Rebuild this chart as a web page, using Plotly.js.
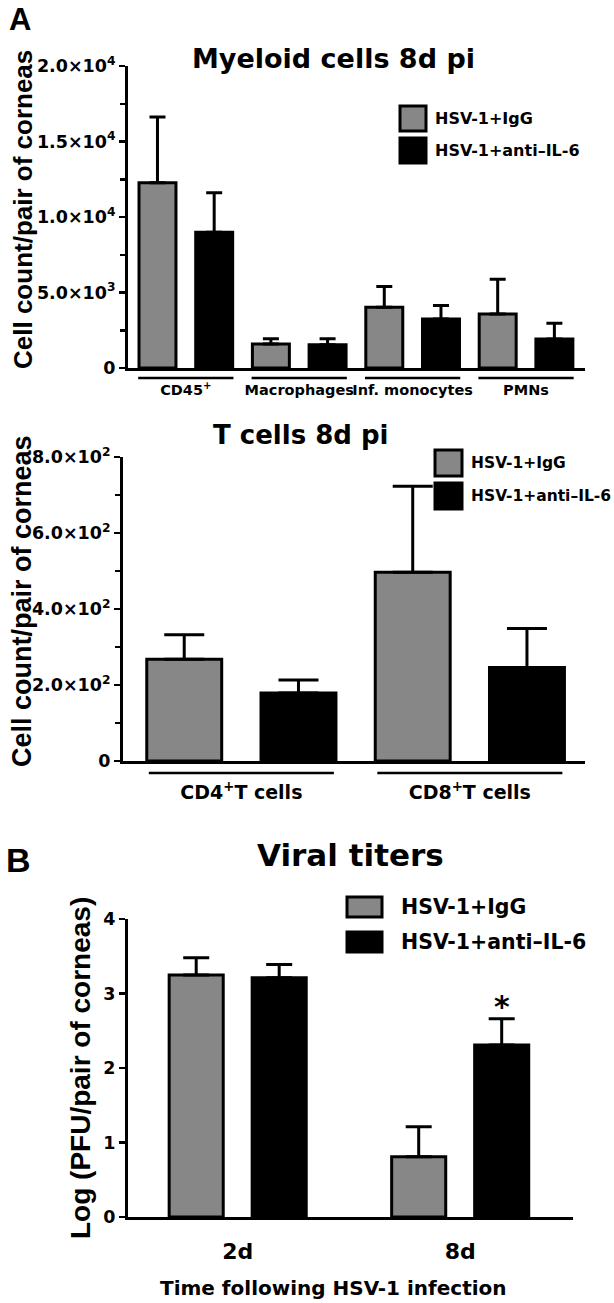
<!DOCTYPE html>
<html>
<head>
<meta charset="utf-8">
<script src="https://cdn.plot.ly/plotly-3.0.1.min.js"></script>
<style>html,body{margin:0;padding:0;background:#fff}</style>
</head>
<body>
<div id="fig" style="width:614px;height:1303px"></div>
<script>
// ── Data ────────────────────────────────────────────────────────────────
const groups = ["HSV-1+IgG", "HSV-1+anti–IL-6"];

const myeloidCats    = ["CD45<sup>+</sup>", "Macrophages", "Inf. monocytes", "PMNs"];
const myeloidIgg     = [12270, 1590, 4030, 3570];
const myeloidIggErr  = [4360, 350, 1360, 2310];
const myeloidAnti    = [8990, 1540, 3240, 1920];
const myeloidAntiErr = [2620, 400, 900, 1050];
const myeloidTicks    = [0, 5000, 10000, 15000, 20000];
const myeloidTickText = ["0", "5.0×10<sup>3</sup>", "1.0×10<sup>4</sup>", "1.5×10<sup>4</sup>", "2.0×10<sup>4</sup>"];

const tcellCats    = ["CD4<sup>+</sup>T cells", "CD8<sup>+</sup>T cells"];
const tcellIgg     = [268, 497];
const tcellIggErr  = [64, 226];
const tcellAnti    = [179, 246];
const tcellAntiErr = [34, 103];
const tcellTicks    = [0, 200, 400, 600, 800];
const tcellTickText = ["0", "2.0×10<sup>2</sup>", "4.0×10<sup>2</sup>", "6.0×10<sup>2</sup>", "8.0×10<sup>2</sup>"];

const titerCats    = ["2d", "8d"];
const titerIgg     = [3.25, 0.81];
const titerIggErr  = [0.23, 0.40];
const titerAnti    = [3.21, 2.31];
const titerAntiErr = [0.18, 0.35];
const titerStars   = ["", "*"];
const titerTicks   = [0, 1, 2, 3, 4];

// ── Helpers ─────────────────────────────────────────────────────────────
const W = 614, H = 1303;
const GRAY = "#878787";
const SANS = "DejaVu Sans";
const ARIAL = "Liberation Sans";
const px = x => x / W;
const py = y => 1 - y / H;

function barTrace(name, cats, vals, errs, color, xa, ya, width, center, capw) {
  return {
    type: "bar", name, x: cats, y: vals,
    width: width, offset: center - width / 2,
    xaxis: xa, yaxis: ya,
    marker: { color, line: { color: "#000", width: 3 } },
    error_y: {
      type: "data", symmetric: false, array: errs, arrayminus: vals.map(() => 0),
      color: "#000", thickness: 3, width: capw,
    },
    showlegend: false, hoverinfo: "skip",
  };
}

function yAxis(domain, range, tickvals, ticktext, minorDtick) {
  const ax = {
    domain, range, tickvals, ticktext,
    showline: true, linecolor: "#000", linewidth: 3,
    ticks: "outside", ticklen: 6, tickwidth: 2.5, tickcolor: "#000",
    showgrid: false, zeroline: false, fixedrange: true,
    tickfont: { family: SANS, size: 17.5, weight: "bold", color: "#000" },
  };
  if (minorDtick) ax.minor = { dtick: minorDtick, ticks: "outside", ticklen: 5, tickwidth: 2.5, tickcolor: "#000", showgrid: false };
  return ax;
}

function xAxis(domain, range, size, standoff) {
  return {
    domain, range, type: "category", tickangle: 0,
    showline: true, linecolor: "#000", linewidth: 3,
    ticks: "", showgrid: false, zeroline: false, fixedrange: true,
    ticklabelstandoff: standoff,
    tickfont: { family: SANS, size, weight: "bold", color: "#000" },
  };
}

// underline under each category (charts 1 and 2)
function underlines(cats, xref, yBottom, half, drop) {
  return cats.map((c, i) => ({
    type: "line", xref, yref: "paper", ysizemode: "pixel", yanchor: yBottom,
    x0: i - half, x1: i + half, y0: -drop, y1: -drop,
    line: { color: "#000", width: 2.5 },
  }));
}

function legendBlock(x, yTop, boxW, boxH, gap, textX, size) {
  const shapes = [], notes = [];
  groups.forEach((g, i) => {
    const y0 = yTop + i * (boxH + gap);
    shapes.push({
      type: "rect", xref: "paper", yref: "paper",
      x0: px(x), x1: px(x + boxW), y0: py(y0 + boxH), y1: py(y0),
      fillcolor: i === 0 ? GRAY : "#000", line: { color: "#000", width: 3 },
    });
    notes.push({
      xref: "paper", yref: "paper", x: px(textX), y: py(y0 + boxH / 2),
      xanchor: "left", yanchor: "middle", showarrow: false, text: g,
      font: { family: SANS, size, weight: "bold", color: "#000" },
    });
  });
  return { shapes, notes };
}

function label(text, x, y, size, family, angle) {
  return {
    xref: "paper", yref: "paper", x: px(x), y: py(y),
    xanchor: "center", yanchor: "middle", showarrow: false, text,
    textangle: angle || 0,
    font: { family: family || SANS, size, weight: "bold", color: "#000" },
  };
}

// ── Panel geometry (pixel positions of the plot areas) ───────────────────
const d1 = { x: [px(128), px(585)], y: [py(368), py(66)] };
const d2 = { x: [px(123), px(585)], y: [py(761), py(457)] };
const d3 = { x: [px(128), px(573)], y: [py(1217), py(919)] };

// ── Traces ──────────────────────────────────────────────────────────────
const traces = [
  barTrace(groups[0], myeloidCats, myeloidIgg,  myeloidIggErr,  GRAY,  "x",  "y",  0.326, -0.25, 8),
  barTrace(groups[1], myeloidCats, myeloidAnti, myeloidAntiErr, "#000", "x",  "y",  0.326,  0.25, 8),
  barTrace(groups[0], tcellCats,   tcellIgg,    tcellIggErr,    GRAY,  "x2", "y2", 0.328, -0.25, 20),
  barTrace(groups[1], tcellCats,   tcellAnti,   tcellAntiErr,   "#000", "x2", "y2", 0.328,  0.25, 20),
  barTrace(groups[0], titerCats,   titerIgg,    titerIggErr,    GRAY,  "x3", "y3", 0.243, -0.1865, 13),
  barTrace(groups[1], titerCats,   titerAnti,   titerAntiErr,   "#000", "x3", "y3", 0.243,  0.1865, 13),
];

// ── Decorations ─────────────────────────────────────────────────────────
const leg1 = legendBlock(400, 106, 26, 25, 7, 433, 16);
const leg2 = legendBlock(435, 450, 27, 26, 7, 469, 15.5);
const leg3 = legendBlock(347, 897, 35, 20, 15, 399, 20.5);

const shapes = [
  ...underlines(myeloidCats, "x",  d1.y[0], 0.42, 10),
  ...underlines(tcellCats,   "x2", d2.y[0], 0.405, 12),
  ...leg1.shapes, ...leg2.shapes, ...leg3.shapes,
];

const stars = titerStars.map((s, i) => s ? {
  xref: "x3", yref: "y3", x: i + 0.1865, y: titerAnti[i] + titerAntiErr[i],
  yanchor: "middle", yshift: 12, showarrow: false, text: s,
  font: { family: SANS, size: 30, weight: "bold", color: "#000" },
} : null).filter(Boolean);

const annotations = [
  label("A", 20, 19, 31, ARIAL),
  label("B", 18, 860, 34, ARIAL),
  label("Myeloid cells 8d pi", 333, 59, 27),
  label("T cells 8d pi", 300, 435, 26),
  label("Viral titers", 350, 855, 31),
  label("Cell count/pair of corneas", 23, 210, 26, ARIAL, -90),
  label("Cell count/pair of corneas", 22, 601, 27, ARIAL, -90),
  label("Log (PFU/pair of corneas)", 80, 1068, 28, ARIAL, -90),
  label("Time following HSV-1 infection", 333, 1288, 20),
  ...leg1.notes, ...leg2.notes, ...leg3.notes,
  ...stars,
];

const layout = {
  width: W, height: H,
  margin: { l: 0, r: 0, t: 0, b: 0 },
  paper_bgcolor: "#fff", plot_bgcolor: "#fff",
  font: { family: SANS, weight: "bold", color: "#000" },
  showlegend: false,
  xaxis:  Object.assign(xAxis(d1.x, [-0.51, 3.52], 14.5, 7), { anchor: "y" }),
  yaxis:  Object.assign(yAxis(d1.y, [0, 20000], myeloidTicks, myeloidTickText, 2500), { anchor: "x" }),
  xaxis2: Object.assign(xAxis(d2.x, [-0.518, 1.504], 19, 12), { anchor: "y2" }),
  yaxis2: Object.assign(yAxis(d2.y, [0, 800], tcellTicks, tcellTickText, 100), { anchor: "x2" }),
  xaxis3: Object.assign(xAxis(d3.x, [-0.493, 1.507], 22, 13), { anchor: "y3" }),
  yaxis3: Object.assign(yAxis(d3.y, [0, 4], titerTicks, titerTicks.map(String)), { anchor: "x3" }),
  shapes, annotations,
};

Plotly.newPlot("fig", traces, layout, { displayModeBar: false, staticPlot: true });
</script>
</body>
</html>
